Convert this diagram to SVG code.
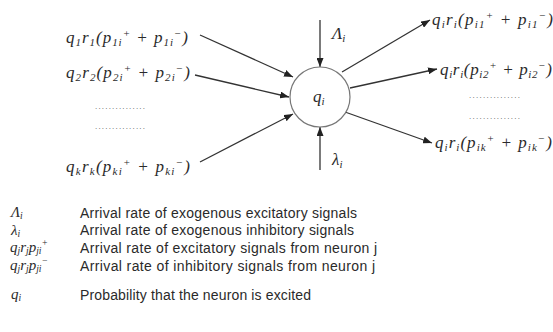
<svg xmlns="http://www.w3.org/2000/svg" width="553" height="332" viewBox="0 0 553 332">
<style>
.m{font-family:"Liberation Serif","DejaVu Serif",serif;font-style:italic;font-size:17px;fill:#2a2a2a}
.s{font-size:11px}
.lm{font-size:15px}
.ls{font-size:9.5px}
.d{font-family:"Liberation Sans",Arial,sans-serif;font-size:14px;fill:#2a2a2a}
.dots{font-family:"Liberation Sans",sans-serif;font-size:8px;fill:#555}
.ln{stroke:#333;stroke-width:1.3;fill:none}
</style>
<defs>
<marker id="ah" markerUnits="userSpaceOnUse" markerWidth="9" markerHeight="7" refX="9" refY="3.5" orient="auto">
<path d="M0,0 L9,3.5 L0,7 z" fill="#222"/>
</marker>
</defs>
<rect width="553" height="332" fill="#fff"/>
<g id="connectors">
<line class="ln" x1="200" y1="35" x2="293" y2="77" marker-end="url(#ah)"/>
<line class="ln" x1="195" y1="75" x2="289" y2="97" marker-end="url(#ah)"/>
<line class="ln" x1="200" y1="162" x2="293" y2="114" marker-end="url(#ah)"/>
<line class="ln" x1="320" y1="20" x2="320" y2="67" marker-end="url(#ah)"/>
<line class="ln" x1="320" y1="170" x2="320" y2="127" marker-end="url(#ah)"/>
<line class="ln" x1="342" y1="72" x2="430" y2="20" marker-end="url(#ah)"/>
<line class="ln" x1="350" y1="88" x2="437" y2="69" marker-end="url(#ah)"/>
<line class="ln" x1="345" y1="112" x2="432" y2="143" marker-end="url(#ah)"/>
</g>
<g id="neuron">
<circle cx="320" cy="97" r="30" fill="#fff" stroke="#777" stroke-width="1.2"/>
<text class="m" x="313" y="102" font-size="19">q<tspan class="s" dy="3">i</tspan></text>
</g>
<g id="in1"><text class="m" x="66" y="43" textLength="122">q<tspan class="s" dy="3">1</tspan><tspan dy="-3">r</tspan><tspan class="s" dy="3">1</tspan><tspan dy="-3">(p</tspan><tspan class="s" dy="3">1i</tspan><tspan class="s" dy="-9">+</tspan><tspan dy="6"> + p</tspan><tspan class="s" dy="3">1i</tspan><tspan class="s" dy="-9">−</tspan><tspan dy="6">)</tspan></text></g>
<g id="in2"><text class="m" x="66" y="78" textLength="124">q<tspan class="s" dy="3">2</tspan><tspan dy="-3">r</tspan><tspan class="s" dy="3">2</tspan><tspan dy="-3">(p</tspan><tspan class="s" dy="3">2i</tspan><tspan class="s" dy="-9">+</tspan><tspan dy="6"> + p</tspan><tspan class="s" dy="3">2i</tspan><tspan class="s" dy="-9">−</tspan><tspan dy="6">)</tspan></text></g>
<g id="indots">
<text class="dots" x="95" y="109" textLength="50">...............</text>
<text class="dots" x="95" y="129" textLength="50">...............</text>
</g>
<g id="ink"><text class="m" x="66" y="172" textLength="124">q<tspan class="s" dy="3">k</tspan><tspan dy="-3">r</tspan><tspan class="s" dy="3">k</tspan><tspan dy="-3">(p</tspan><tspan class="s" dy="3">ki</tspan><tspan class="s" dy="-9">+</tspan><tspan dy="6"> + p</tspan><tspan class="s" dy="3">ki</tspan><tspan class="s" dy="-9">−</tspan><tspan dy="6">)</tspan></text></g>
<g id="exc"><text class="m" x="332" y="39">Λ<tspan class="s" dy="3">i</tspan></text></g>
<g id="inh"><text class="m" x="332" y="165">λ<tspan class="s" dy="3">i</tspan></text></g>
<g id="out1"><text class="m" x="432" y="25" textLength="121">q<tspan class="s" dy="3">i</tspan><tspan dy="-3">r</tspan><tspan class="s" dy="3">i</tspan><tspan dy="-3">(p</tspan><tspan class="s" dy="3">i1</tspan><tspan class="s" dy="-9">+</tspan><tspan dy="6"> + p</tspan><tspan class="s" dy="3">i1</tspan><tspan class="s" dy="-9">−</tspan><tspan dy="6">)</tspan></text></g>
<g id="out2"><text class="m" x="440" y="75" textLength="112">q<tspan class="s" dy="3">i</tspan><tspan dy="-3">r</tspan><tspan class="s" dy="3">i</tspan><tspan dy="-3">(p</tspan><tspan class="s" dy="3">i2</tspan><tspan class="s" dy="-9">+</tspan><tspan dy="6"> + p</tspan><tspan class="s" dy="3">i2</tspan><tspan class="s" dy="-9">−</tspan><tspan dy="6">)</tspan></text></g>
<g id="outdots">
<text class="dots" x="469" y="98" textLength="51">...............</text>
<text class="dots" x="469" y="119" textLength="51">...............</text>
</g>
<g id="outk"><text class="m" x="435" y="148" textLength="117">q<tspan class="s" dy="3">i</tspan><tspan dy="-3">r</tspan><tspan class="s" dy="3">i</tspan><tspan dy="-3">(p</tspan><tspan class="s" dy="3">ik</tspan><tspan class="s" dy="-9">+</tspan><tspan dy="6"> + p</tspan><tspan class="s" dy="3">ik</tspan><tspan class="s" dy="-9">−</tspan><tspan dy="6">)</tspan></text></g>
<g id="legend">
<text class="m lm" x="11" y="217">Λ<tspan class="ls" dy="2">i</tspan></text>
<text class="d" x="80" y="218" textLength="277">Arrival rate of exogenous excitatory signals</text>
<text class="m lm" x="11" y="235">λ<tspan class="ls" dy="2">i</tspan></text>
<text class="d" x="80" y="235" textLength="274">Arrival rate of exogenous inhibitory signals</text>
<text class="m lm" x="10" y="252">q<tspan class="ls" dy="2">j</tspan><tspan dy="-2">r</tspan><tspan class="ls" dy="2">j</tspan><tspan dy="-2">p</tspan><tspan class="ls" dy="2">ji</tspan><tspan class="ls" dy="-8">+</tspan></text>
<text class="d" x="80" y="253" textLength="297">Arrival rate of excitatory signals from neuron j</text>
<text class="m lm" x="10" y="270">q<tspan class="ls" dy="2">j</tspan><tspan dy="-2">r</tspan><tspan class="ls" dy="2">j</tspan><tspan dy="-2">p</tspan><tspan class="ls" dy="2">ji</tspan><tspan class="ls" dy="-8">−</tspan></text>
<text class="d" x="80" y="271" textLength="295">Arrival rate of inhibitory signals from neuron j</text>
<text class="m lm" x="11" y="299">q<tspan class="ls" dy="2">i</tspan></text>
<text class="d" x="80" y="300" textLength="231">Probability that the neuron is excited</text>
</g>
</svg>
